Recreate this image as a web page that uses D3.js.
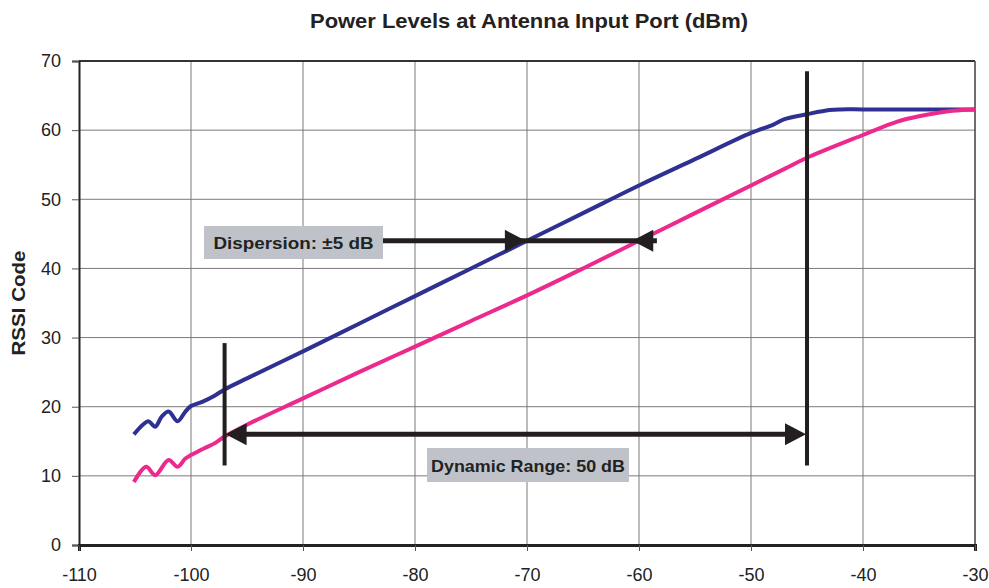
<!DOCTYPE html>
<html lang="en">
<head>
<meta charset="UTF-8">
<title>RSSI Code vs Power</title>
<style>
    body { margin: 0; background: #fff; }
    svg { display: block; font-family: "Liberation Sans", Arial, sans-serif; }
</style>
</head>
<body>
<script src="https://cdnjs.cloudflare.com/ajax/libs/d3/7.8.5/d3.min.js"></script>
<script>
    const width = 989;
    const height = 588;
    const margin = {top: 61, right: 14, bottom: 43, left: 79};

    // tick values
    const xTicks = [-110, -100, -90, -80, -70, -60, -50, -40, -30];
    const yTicks = [0, 10, 20, 30, 40, 50, 60, 70];

    // upper curve (blue)
    const blueX = [-105.1, -104.3, -103.8, -103.2, -102.6, -102.0, -101.2, -100.5, -100.0, -99.0, -97.9, -97.0,
        -95, -90, -85, -80, -75, -70, -65, -60, -55, -50, -48, -47, -45, -43, -42, -40, -35, -30];
    const blueY = [16.0, 17.4, 17.9, 17.1, 18.6, 19.3, 17.9, 19.3, 20.1, 20.7, 21.6, 22.5,
        24.1, 28.0, 32.0, 36.0, 40.0, 44.0, 48.0, 52.0, 55.8, 59.6, 60.8, 61.6, 62.3, 62.9, 63.0, 63.0, 63.0, 63.0];

    // lower curve (magenta)
    const pinkX = [-105.1, -104.0, -103.2, -102.0, -101.2, -100.5, -100.0, -98.8, -97.9, -97.0,
        -95, -90, -85, -80, -75, -70, -65, -60, -55, -50, -47, -45, -40, -37, -35, -32, -30];
    const pinkY = [9.1, 11.3, 10.1, 12.3, 11.3, 12.5, 13.0, 14.0, 14.7, 15.7,
        17.4, 21.2, 25.0, 28.7, 32.4, 36.1, 40.0, 44.0, 48.0, 52.0, 54.4, 56.0, 59.3, 61.2, 62.0, 62.8, 63.0];

    // annotations (data units)
    const dispersion = {label: "Dispersion: \u00b15 dB", y: 44, from: -82.9, to: -58.4, tipRight: -70.1, tipLeft: -60.6};
    const dynRange = {label: "Dynamic Range: 50 dB", y: 16, from: -97, to: -45};
    const markers = [{x: -97, y0: 11.5, y1: 29.2}, {x: -45, y0: 11.5, y1: 68.5}];

    const svg = d3.select("body").append("svg")
        .attr("width", width)
        .attr("height", height);

    const x = d3.scaleLinear()
        .domain([-110, -30])
        .range([margin.left, width - margin.right]);
    const y = d3.scaleLinear()
        .domain([0, 70])
        .range([height - margin.bottom, margin.top]);

    // grid
    svg.append("g")
        .selectAll("line")
        .data(xTicks.slice(1))
        .join("line")
        .attr("x1", d => x(d)).attr("x2", d => x(d))
        .attr("y1", y(0)).attr("y2", y(70))
        .attr("stroke", "#7a7a7a")
        .attr("stroke-width", 1);
    svg.append("g")
        .selectAll("line")
        .data(yTicks.slice(1))
        .join("line")
        .attr("x1", x(-110)).attr("x2", x(-30))
        .attr("y1", d => y(d)).attr("y2", d => y(d))
        .attr("stroke", "#7a7a7a")
        .attr("stroke-width", 1);

    // frame: top and right darker
    svg.append("line")
        .attr("x1", x(-110)).attr("x2", x(-30))
        .attr("y1", y(70)).attr("y2", y(70))
        .attr("stroke", "#333").attr("stroke-width", 2);
    svg.append("line")
        .attr("x1", x(-30)).attr("x2", x(-30))
        .attr("y1", y(0)).attr("y2", y(70))
        .attr("stroke", "#555").attr("stroke-width", 1.5);

    // axes
    const xAxis = svg.append("g")
        .attr("transform", `translate(0,${y(0)})`)
        .call(d3.axisBottom(x).tickValues(xTicks).tickFormat(d => String(d)).tickSize(6).tickPadding(17));
    xAxis.select(".domain").attr("stroke", "#222").attr("stroke-width", 3);
    xAxis.selectAll(".tick line").attr("stroke", "#555");
    xAxis.selectAll("text").attr("font-size", "18px").attr("fill", "#222");

    const yAxis = svg.append("g")
        .attr("transform", `translate(${x(-110)},0)`)
        .call(d3.axisLeft(y).tickValues(yTicks).tickSize(7).tickPadding(11));
    yAxis.select(".domain").attr("stroke", "#222").attr("stroke-width", 2);
    yAxis.selectAll(".tick line").attr("stroke", "#555");
    yAxis.selectAll("text").attr("font-size", "18px").attr("fill", "#222");

    // curves
    const line = d3.line()
        .x(d => x(d[0]))
        .y(d => y(d[1]))
        .curve(d3.curveCatmullRom.alpha(0.5));

    svg.append("path")
        .datum(d3.zip(blueX, blueY))
        .attr("d", line)
        .attr("fill", "none")
        .attr("stroke", "#2e3192")
        .attr("stroke-width", 4)
        .attr("stroke-linejoin", "round");
    svg.append("path")
        .datum(d3.zip(pinkX, pinkY))
        .attr("d", line)
        .attr("fill", "none")
        .attr("stroke", "#ec2a8e")
        .attr("stroke-width", 4)
        .attr("stroke-linejoin", "round");

    const ink = "#231f20";

    // vertical markers
    svg.append("g")
        .selectAll("line")
        .data(markers)
        .join("line")
        .attr("x1", d => x(d.x)).attr("x2", d => x(d.x))
        .attr("y1", d => y(d.y0)).attr("y2", d => y(d.y1))
        .attr("stroke", ink)
        .attr("stroke-width", 4);

    function head(px, py, dir) {
        // dir = 1 points right, -1 points left
        const len = 21, half = 11;
        return `M${px},${py}L${px - dir * len},${py - half}L${px - dir * len},${py + half}Z`;
    }

    // dispersion arrow
    svg.append("line")
        .attr("x1", x(dispersion.from)).attr("x2", x(dispersion.to))
        .attr("y1", y(dispersion.y)).attr("y2", y(dispersion.y))
        .attr("stroke", ink).attr("stroke-width", 5);
    svg.append("path").attr("d", head(x(dispersion.tipRight), y(dispersion.y), 1)).attr("fill", ink);
    svg.append("path").attr("d", head(x(dispersion.tipLeft), y(dispersion.y), -1)).attr("fill", ink);

    // dynamic range arrow
    svg.append("line")
        .attr("x1", x(dynRange.from) + 10).attr("x2", x(dynRange.to) - 10)
        .attr("y1", y(dynRange.y)).attr("y2", y(dynRange.y))
        .attr("stroke", ink).attr("stroke-width", 5);
    svg.append("path").attr("d", head(x(dynRange.from) + 1, y(dynRange.y), -1)).attr("fill", ink);
    svg.append("path").attr("d", head(x(dynRange.to) - 1, y(dynRange.y), 1)).attr("fill", ink);

    // label boxes
    function labelBox(cx, cy, w, h, text, tw) {
        svg.append("rect")
            .attr("x", cx - w / 2).attr("y", cy - h / 2)
            .attr("width", w).attr("height", h)
            .attr("fill", "#c0c2c9");
        svg.append("text")
            .attr("x", cx).attr("y", cy + 1)
            .attr("text-anchor", "middle")
            .attr("dominant-baseline", "central")
            .attr("font-size", "17px")
            .attr("font-weight", "bold")
            .attr("textLength", tw)
            .attr("lengthAdjust", "spacingAndGlyphs")
            .attr("fill", "#222")
            .text(text);
    }
    labelBox(293.5, 242.5, 179, 33, dispersion.label, 160);
    labelBox(528, 465, 202, 34, dynRange.label, 194);

    // title
    svg.append("text")
        .attr("x", 529).attr("y", 28)
        .attr("text-anchor", "middle")
        .attr("font-size", "21px")
        .attr("font-weight", "bold")
        .attr("textLength", 438)
        .attr("lengthAdjust", "spacingAndGlyphs")
        .attr("fill", "#222")
        .text("Power Levels at Antenna Input Port (dBm)");

    // y label
    svg.append("text")
        .attr("transform", `translate(25,${(y(0) + y(70)) / 2}) rotate(-90)`)
        .attr("text-anchor", "middle")
        .attr("font-size", "19px")
        .attr("font-weight", "bold")
        .attr("textLength", 105)
        .attr("lengthAdjust", "spacingAndGlyphs")
        .attr("fill", "#222")
        .text("RSSI Code");
</script>
</body>
</html>
